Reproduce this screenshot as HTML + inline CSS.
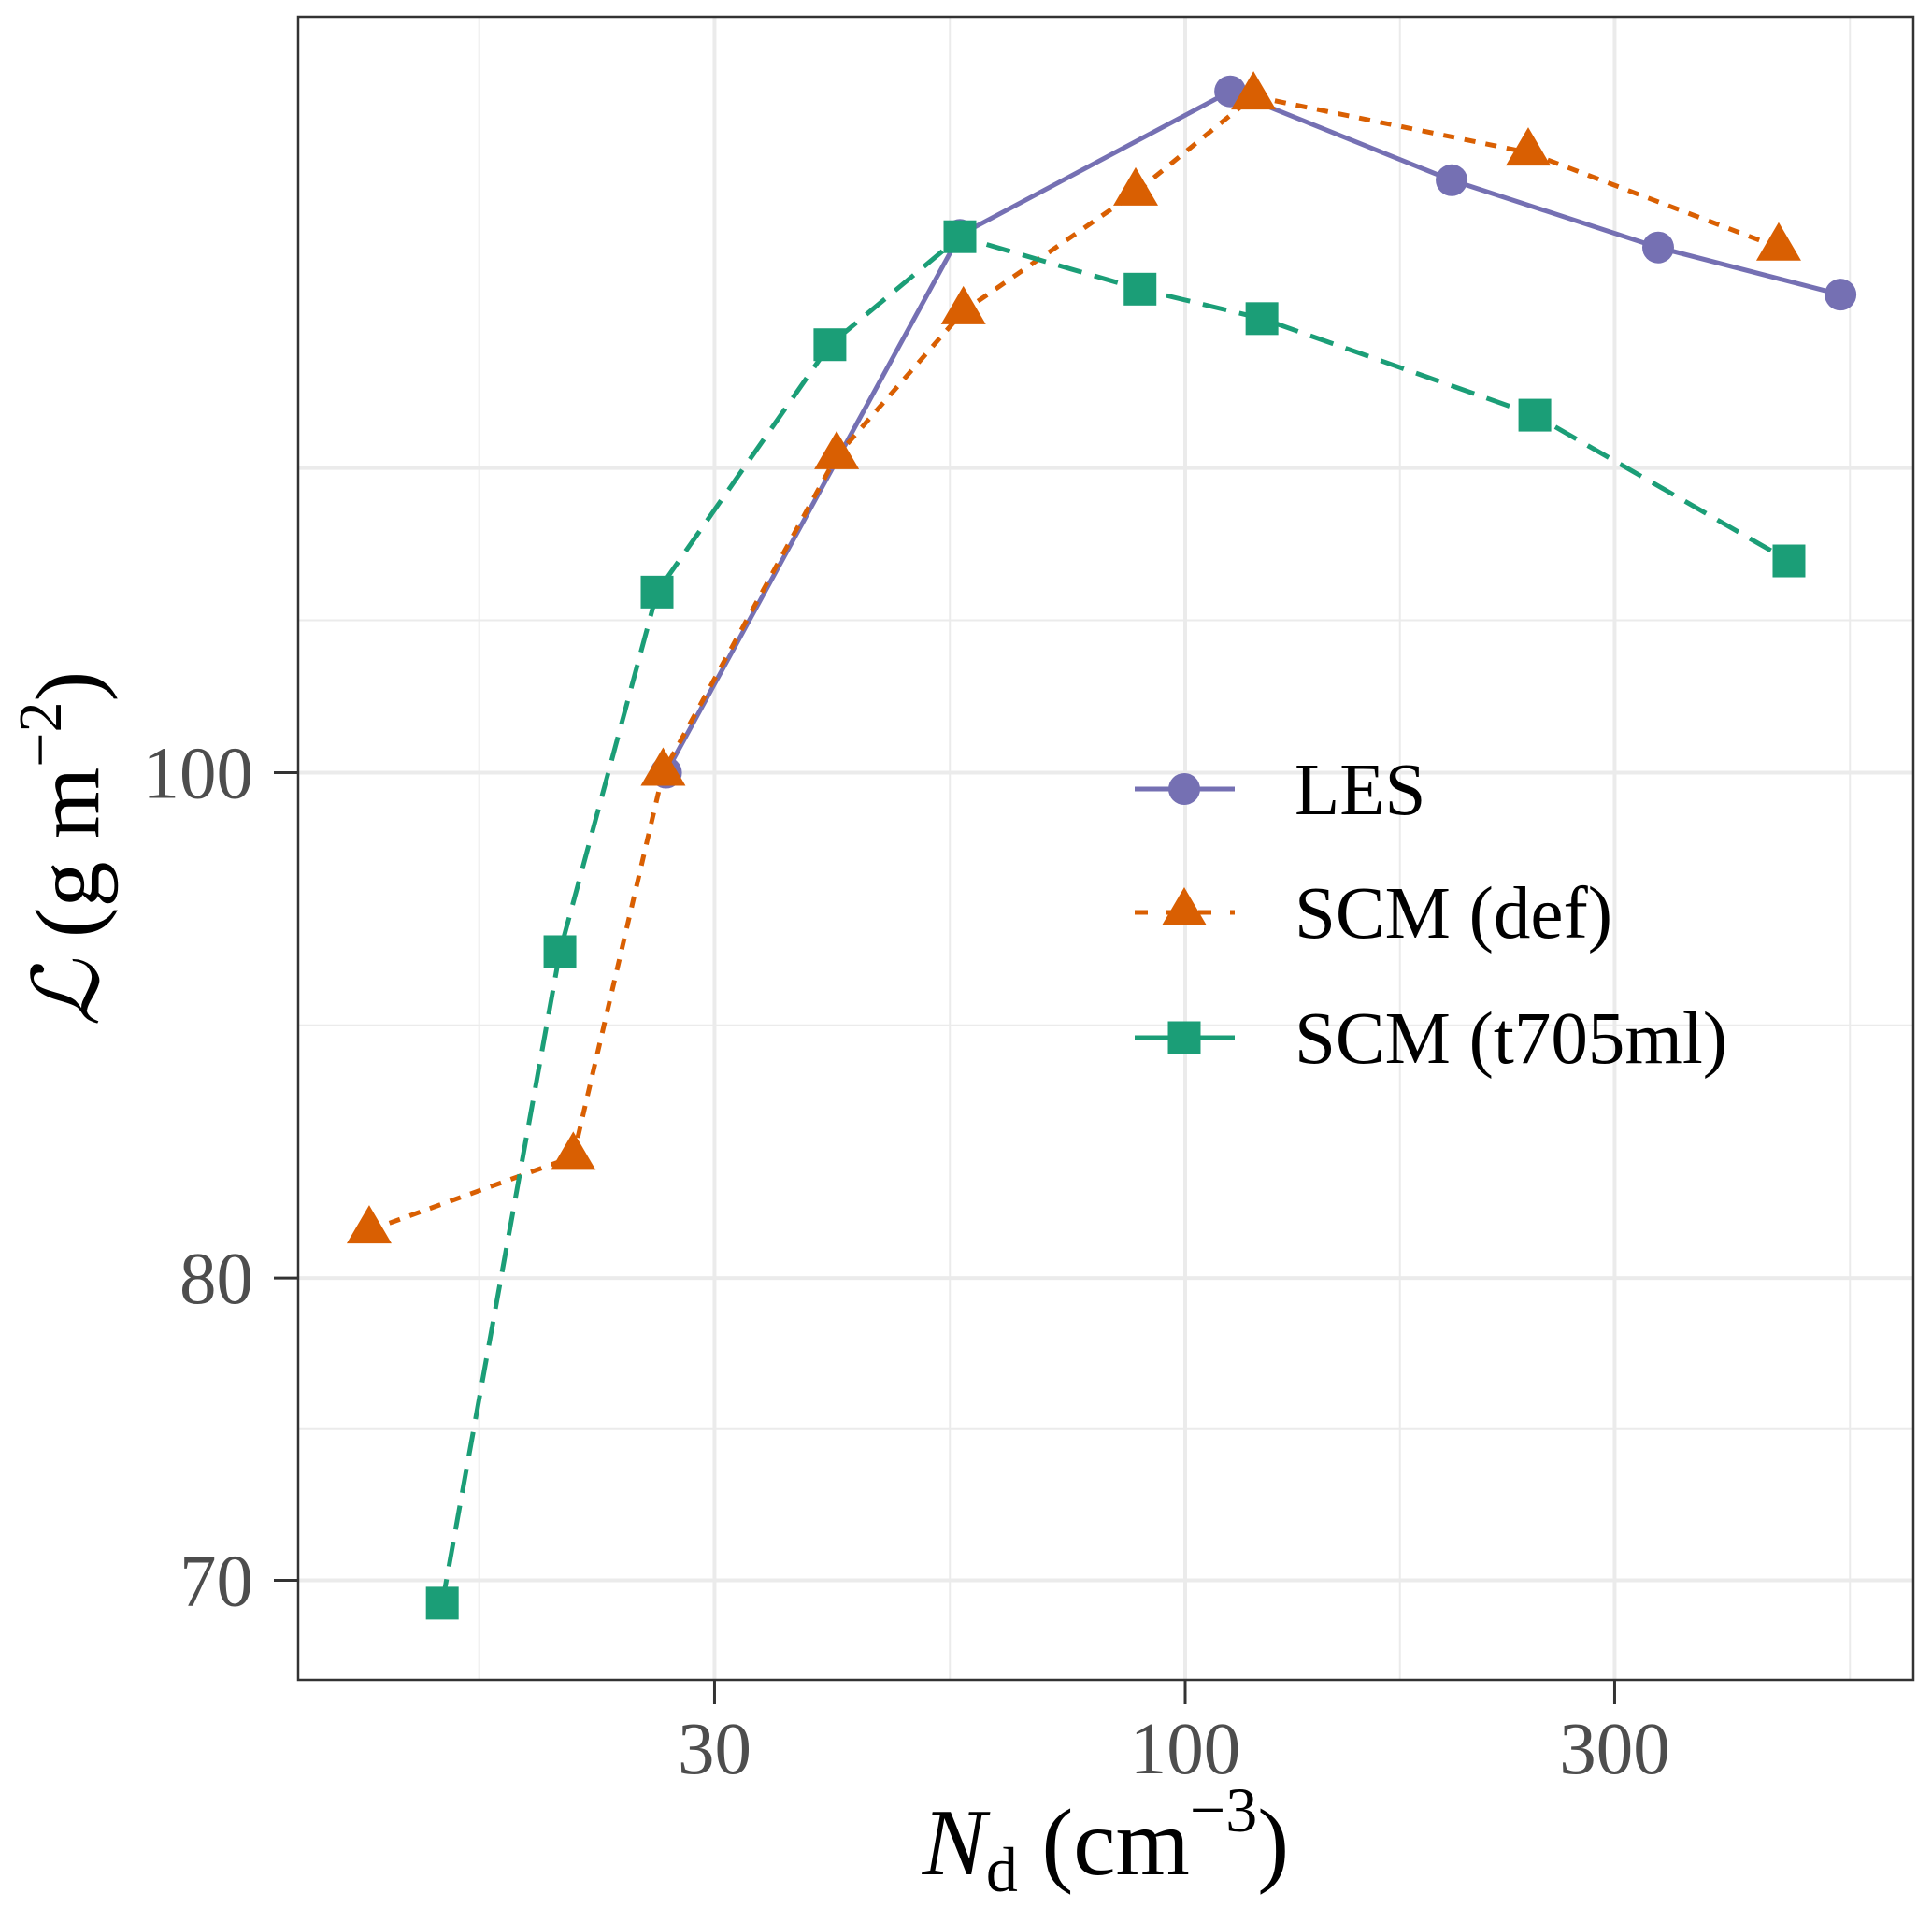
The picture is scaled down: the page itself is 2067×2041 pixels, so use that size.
<!DOCTYPE html>
<html><head><meta charset="utf-8"><style>
html,body{margin:0;padding:0;background:#fff;}
svg{display:block;}
text{font-family:"Liberation Serif","DejaVu Serif",serif;}
</style></head><body>
<svg id="chart" width="2067" height="2041" viewBox="0 0 2067 2041" xmlns="http://www.w3.org/2000/svg">
<rect x="0" y="0" width="2067" height="2041" fill="#fff"/>
<g id="grid"></g>
<g id="series"></g>
<rect x="319" y="18" width="1728" height="1779" fill="none" stroke="#333" stroke-width="2.5"/>
<g id="axes"></g>
<text x="1183" y="2005" text-anchor="middle" font-size="102" fill="#000"><tspan font-style="italic">N</tspan><tspan font-size="68" dy="18">d</tspan><tspan dy="-18"> (cm</tspan><tspan font-size="68" dy="-46">−3</tspan><tspan dy="46">)</tspan></text>
<text transform="translate(105,908) rotate(-90)" text-anchor="middle" font-size="98" fill="#000"><tspan font-style="italic" font-family="'DejaVu Serif',serif">ℒ</tspan><tspan> (g m</tspan><tspan font-size="66" dy="-40">−2</tspan><tspan dy="40">)</tspan></text>
<g id="legend"></g>
</svg>
<script>
const lesX = [26.5, 56.2, 112.2, 197.7, 335.3, 534.6];
const lesY = [100, 126.8, 135.1, 129.9, 126.1, 123.5];
const defX = [12.4, 20.9, 26.3, 41.0, 56.7, 88.1, 119.1, 240.5, 456.4];
const defY = [81.7, 84.4, 100, 115, 122.6, 129.2, 134.8, 131.5, 126.1];
const tmlX = [14.95, 20.2, 25.9, 40.3, 56.2, 89.1, 121.7, 244.6, 468.6];
const tmlY = [69.3, 92.4, 108.3, 120.8, 126.7, 123.8, 122.2, 117.1, 109.8];
const xTicks = [30, 100, 300];
const xTickLabels = ["30", "100", "300"];
const yTicks = [70, 80, 100];
const yTickLabels = ["70", "80", "100"];
const yExtraMajor = [114.4];
const legendLabels = ["LES", "SCM (def)", "SCM (t705ml)"];

const NS = "http://www.w3.org/2000/svg";
const X0 = 319, X1 = 2047, Y0 = 18, Y1 = 1797;
function xs(v){ return 1268 + 963*Math.log10(v/100); }
function ys(v){ return 826.5 - 5578*Math.log10(v/100); }
function mk(tag, attrs, parent){ const e=document.createElementNS(NS,tag); for(const k in attrs) e.setAttribute(k,attrs[k]); parent.appendChild(e); return e; }

const grid = document.getElementById('grid');
const xMinor = [Math.sqrt(30*30/ (100/30)) , Math.sqrt(30*100), Math.sqrt(100*300), Math.sqrt(300*1000)];
xMinor.forEach(v=>{ const l=mk('line',{x1:xs(v),x2:xs(v),y1:Y0,y2:Y1,stroke:'#ebebeb','stroke-width':2},grid);

 });
const yMaj = yTicks.concat(yExtraMajor).sort((a,b)=>a-b);
for(let i=0;i<yMaj.length-1;i++){ const v=Math.sqrt(yMaj[i]*yMaj[i+1]);
 const l=mk('line',{x1:X0,x2:X1,y1:ys(v),y2:ys(v),stroke:'#ebebeb','stroke-width':2},grid);
 
  }
xTicks.forEach(v=>{ const l=mk('line',{x1:xs(v),x2:xs(v),y1:Y0,y2:Y1,stroke:'#ebebeb','stroke-width':4},grid);

 });
yMaj.forEach(v=>{ const l=mk('line',{x1:X0,x2:X1,y1:ys(v),y2:ys(v),stroke:'#ebebeb','stroke-width':4},grid);

 });

const axes = document.getElementById('axes');
xTicks.forEach((v,i)=>{ const t=mk('line',{x1:xs(v),x2:xs(v),y1:Y1,y2:Y1+26,stroke:'#333','stroke-width':3},axes);


const tx=mk('text',{x:xs(v),y:1897,'text-anchor':'middle','font-size':79,fill:'#4d4d4d'},axes); tx.textContent=xTickLabels[i];

 });
yTicks.forEach((v,i)=>{ const t=mk('line',{x1:X0-26,x2:X0,y1:ys(v),y2:ys(v),stroke:'#333','stroke-width':3},axes);


const tx=mk('text',{x:271,y:ys(v)+27,'text-anchor':'end','font-size':79,fill:'#4d4d4d'},axes); tx.textContent=yTickLabels[i];

 });

const series = document.getElementById('series');
function marker(type, cx, cy, color, parent){
  let e;
  if(type==='circle') e=mk('circle',{cx:cx,cy:cy,r:17,fill:color},parent);
  else if(type==='tri') e=mk('polygon',{points:`${cx},${cy-27} ${cx-24},${cy+14} ${cx+24},${cy+14}`,fill:color},parent);
  else e=mk('rect',{x:cx-17.5,y:cy-17.5,width:35,height:35,fill:color},parent);
  return e;
}
const defs = [
 {name:'les',xs:lesX,ys:lesY,color:'#7570B3',dash:'',m:'circle'},
 {name:'scm-def',xs:defX,ys:defY,color:'#D95F02',dash:'12 11',m:'tri'},
 {name:'scm-t705ml',xs:tmlX,ys:tmlY,color:'#1B9E77',dash:'26 14',m:'sq'}
];
defs.forEach(s=>{
  const g=mk('g',{},series);
  
  
  const pts=s.xs.map((v,i)=>xs(v)+','+ys(s.ys[i])).join(' ');
  const pl=mk('polyline',{points:pts,fill:'none',stroke:s.color,'stroke-width':5,'stroke-dasharray':s.dash},g);
  
  
  s.xs.forEach((v,i)=>{ const e=marker(s.m,xs(v),ys(s.ys[i]),s.color,g);
   
    });
});

const legend = document.getElementById('legend');
const ly=[844,976,1110];
defs.forEach((s,i)=>{
  const g=mk('g',{},legend);
  
  
  mk('line',{x1:1214,x2:1321,y1:ly[i],y2:ly[i],stroke:s.color,'stroke-width':5,'stroke-dasharray':s.dash?(i===1?'14 20':'107 0'):''},g);
  marker(s.m,1267,ly[i],s.color,g);
  const t=mk('text',{x:1385,y:ly[i]+27,'font-size':79,fill:'#000'},g); t.textContent=legendLabels[i];
  
  
});
</script>
</body></html>
